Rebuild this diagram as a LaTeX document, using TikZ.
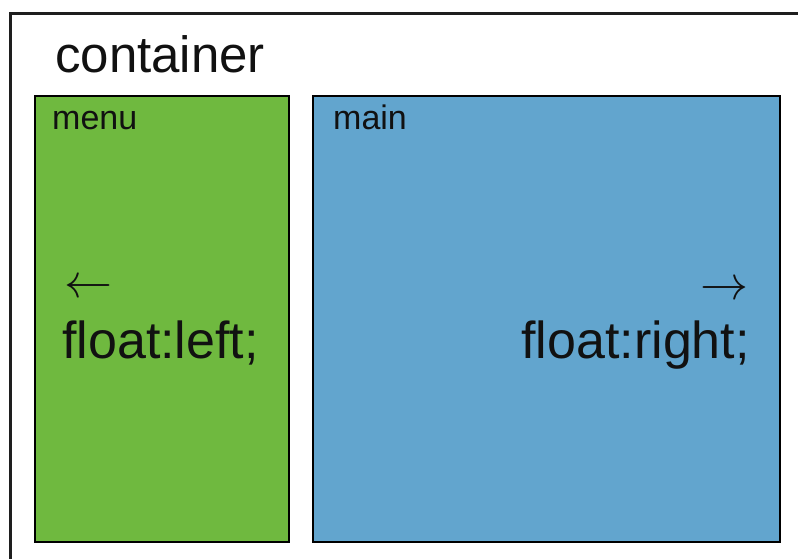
\documentclass[tikz,border=0pt]{standalone}
\usepackage{fix-cm}
\usepackage{fontspec}
\setmainfont{Liberation Sans}
\definecolor{menuGreen}{HTML}{6FB93F}
\definecolor{mainBlue}{HTML}{62A5CE}
\definecolor{frameDark}{HTML}{1E1E1E}
\definecolor{inkDark}{HTML}{111111}

\begin{document}
\begin{tikzpicture}[x=1pt, y=-1pt,
    box/.style={draw=black, line width=2pt, anchor=north west, inner sep=0pt},
    tag/.style={anchor=base west, inner sep=0pt, text=inkDark, font=\fontsize{34}{34}\selectfont},
    rule/.style={anchor=base west, inner sep=0pt, text=inkDark, font=\fontsize{52}{52}\selectfont},
    dir/.style={inner sep=0pt, text=inkDark, font=\fontsize{48}{48}\selectfont}]
  \useasboundingbox (0,0) rectangle (798,558);
  \clip (0,0) rectangle (798,558);
  % wrapper runs off the page at right and bottom
  \draw[line width=3pt, color=frameDark] (10,13) rectangle (840,620);
  \node[anchor=base west, inner sep=0pt, text=inkDark, font=\fontsize{51}{51}\selectfont]
    (container) at (55,72) {container};
  % the two floated columns
  \node[box, fill=menuGreen, minimum width=254pt, minimum height=446pt] (menu) at (34,95) {};
  \node[box, fill=mainBlue, minimum width=467pt, minimum height=446pt] (main) at (312,95) {};
  \node[tag] (menutag) at (52,129) {menu};
  \node[tag] (maintag) at (333,129) {main};
  \node[dir, anchor=west] (leftdir) at (64,289) {$\leftarrow$};
  \node[rule] (leftrule) at (62,358) {float:left;};
  \node[dir, anchor=east] (rightdir) at (749,291) {$\rightarrow$};
  \node[rule, anchor=base east] (rightrule) at (750,358) {float:right;};
\end{tikzpicture}
\end{document}
